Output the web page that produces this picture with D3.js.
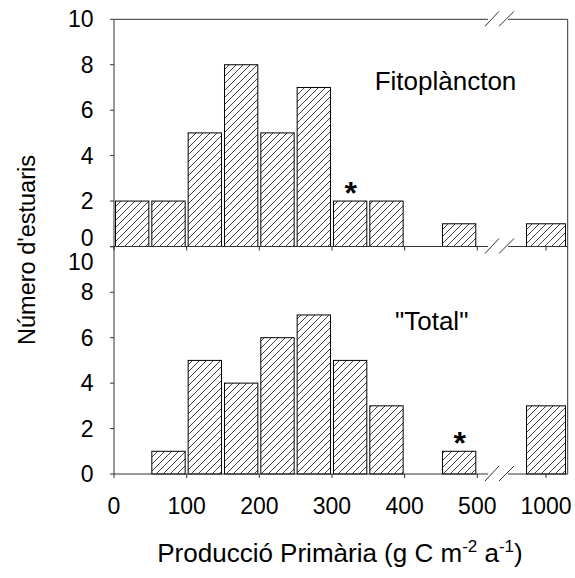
<!DOCTYPE html>
<html>
<head>
<meta charset="utf-8">
<script src="https://cdn.jsdelivr.net/npm/d3@7"></script>
<style>
  html, body { margin: 0; padding: 0; background: #fff; }
  text { font-family: "Liberation Sans", Arial, Helvetica, sans-serif; fill: #000; }
</style>
</head>
<body>
<svg id="chart" width="575" height="578"></svg>
<script>
// ---- data ----
const binStarts = [0, 50, 100, 150, 200, 250, 300, 350, 400, 450];
const binWidth = 50;
const fitoValues = [2, 2, 5, 8, 5, 7, 2, 2, 0, 1];
const fitoValue1000 = 1;
const totalValues = [0, 1, 5, 4, 6, 7, 5, 3, 0, 1];
const totalValue1000 = 3;
const fitoStarBin = 300;   // asterisk above this bin
const totalStarBin = 450;
const xTickLow = [0, 100, 200, 300, 400, 500];
const xTickHigh = [1000];
const yTicks = [0, 2, 4, 6, 8, 10];
const panelLabels = ["Fitoplàncton", "\"Total\""];
const yTitle = "Número d'estuaris";

// ---- layout ----
const svg = d3.select("#chart");
const left = 114, right = 567.7;
const breakA = 488, breakB = 508;
const xLow = d3.scaleLinear().domain([0, 500]).range([114, 477.3]);
const xHigh = d3.scaleLinear().domain([950, 1050]).range([513.5, 578.5]);
const yTop = d3.scaleLinear().domain([0, 10]).range([246.5, 19.3]);
const yBot = d3.scaleLinear().domain([0, 10]).range([474, 246.8]);

const defs = svg.append("defs");
const pat = defs.append("pattern").attr("id", "hatch")
  .attr("patternUnits", "userSpaceOnUse").attr("width", 7).attr("height", 7);
pat.append("rect").attr("width", 7).attr("height", 7).attr("fill", "#fff");
pat.append("path").attr("d", "M-1,1 L1,-1 M0,7 L7,0 M6,8 L8,6")
  .attr("stroke", "#111").attr("stroke-width", 0.8);

const axisColor = "#333";

function drawPanel(y, values, v1000, starBin, label, labelX, labelY, isBottom) {
  const g = svg.append("g");
  // bars
  const data = binStarts.map((b, i) => ({ lo: b, hi: b + binWidth, v: values[i] }));
  g.selectAll("rect.bar").data(data.filter(d => d.v > 0)).enter().append("rect")
    .attr("class", "bar")
    .attr("x", d => xLow(d.lo) + 1.5)
    .attr("width", d => xLow(d.hi) - xLow(d.lo) - 3)
    .attr("y", d => y(d.v))
    .attr("height", d => y(0) - y(d.v))
    .attr("fill", "url(#hatch)").attr("stroke", "#000").attr("stroke-width", 1);
  if (v1000 > 0) {
    g.append("rect")
      .attr("x", xHigh(970)).attr("width", xHigh(1030) - xHigh(970))
      .attr("y", y(v1000)).attr("height", y(0) - y(v1000))
      .attr("fill", "url(#hatch)").attr("stroke", "#000").attr("stroke-width", 1);
  }
  // asterisk
  const si = binStarts.indexOf(starBin);
  g.append("text")
    .attr("x", xLow(starBin + binWidth / 2) + 0.5)
    .attr("y", y(values[si]) + 3)
    .attr("text-anchor", "middle")
    .attr("font-size", 32).attr("font-weight", "bold")
    .text("*");
  // x axis line with break
  const y0 = y(0);
  g.append("line").attr("x1", left).attr("x2", breakA).attr("y1", y0).attr("y2", y0)
    .attr("stroke", axisColor);
  g.append("line").attr("x1", breakB).attr("x2", right).attr("y1", y0).attr("y2", y0)
    .attr("stroke", axisColor);
  // break marks
  [[485, 499], [499, 514]].forEach(([a, b]) => {
    g.append("line").attr("x1", a).attr("y1", y0 + 7).attr("x2", b).attr("y2", y0 - 8)
      .attr("stroke", axisColor);
  });
  // x ticks
  g.selectAll("line.xt").data(xTickLow).enter().append("line")
    .attr("x1", d => xLow(d)).attr("x2", d => xLow(d))
    .attr("y1", y0).attr("y2", y0 + 4).attr("stroke", axisColor);
  g.selectAll("line.xt2").data(xTickHigh).enter().append("line")
    .attr("x1", d => xHigh(d)).attr("x2", d => xHigh(d))
    .attr("y1", y0).attr("y2", y0 + 4).attr("stroke", axisColor);
  // y ticks
  g.selectAll("line.yt").data(yTicks).enter().append("line")
    .attr("x1", left - 4).attr("x2", left)
    .attr("y1", d => y(d)).attr("y2", d => y(d)).attr("stroke", axisColor);
  g.selectAll("text.yl").data(yTicks).enter().append("text")
    .attr("x", 93.5)
    .attr("y", d => {
      let yy = y(d) + 8;
      if (!isBottom && d === 0) yy -= 9;
      if (isBottom && d === 10) yy += 15;
      return yy;
    })
    .attr("text-anchor", "end").attr("font-size", 23)
    .text(d => d);
  // panel label
  g.append("text").attr("x", labelX).attr("y", labelY)
    .attr("text-anchor", "middle").attr("font-size", 26).text(label);
  return g;
}

drawPanel(yTop, fitoValues, fitoValue1000, fitoStarBin, panelLabels[0], 445.5, 90, false);
drawPanel(yBot, totalValues, totalValue1000, totalStarBin, panelLabels[1], 431.7, 330, true);

// frame: left axis, right border, top border with break
svg.append("line").attr("x1", left).attr("x2", left).attr("y1", yTop(10)).attr("y2", yBot(0))
  .attr("stroke", axisColor);
svg.append("line").attr("x1", right).attr("x2", right).attr("y1", yTop(10)).attr("y2", yBot(0))
  .attr("stroke", axisColor);
const yT = yTop(10);
svg.append("line").attr("x1", left).attr("x2", breakA).attr("y1", yT).attr("y2", yT).attr("stroke", axisColor);
svg.append("line").attr("x1", breakB).attr("x2", right).attr("y1", yT).attr("y2", yT).attr("stroke", axisColor);
[[485, 499], [499, 514]].forEach(([a, b]) => {
  svg.append("line").attr("x1", a).attr("y1", yT + 7).attr("x2", b).attr("y2", yT - 8)
    .attr("stroke", axisColor);
});

// x tick labels (bottom)
const xl = svg.append("g");
xl.selectAll("text.a").data(xTickLow).enter().append("text")
  .attr("x", d => xLow(d)).attr("y", 514).attr("text-anchor", "middle")
  .attr("font-size", 23).text(d => d);
xl.selectAll("text.b").data(xTickHigh).enter().append("text")
  .attr("x", d => xHigh(d)).attr("y", 514).attr("text-anchor", "middle")
  .attr("font-size", 23).text(d => d);

// axis titles
svg.append("text").attr("transform", "translate(35,250) rotate(-90)")
  .attr("text-anchor", "middle").attr("font-size", 23.5).text(yTitle);

const xt = svg.append("text").attr("x", 340).attr("y", 562).attr("text-anchor", "middle")
  .attr("font-size", 26);
xt.append("tspan").text("Producció Primària (g C m");
xt.append("tspan").attr("font-size", 17).attr("dy", -10).text("-2");
xt.append("tspan").attr("dy", 10).text(" a");
xt.append("tspan").attr("font-size", 17).attr("dy", -10).text("-1");
xt.append("tspan").attr("dy", 10).text(")");
</script>
</body>
</html>
